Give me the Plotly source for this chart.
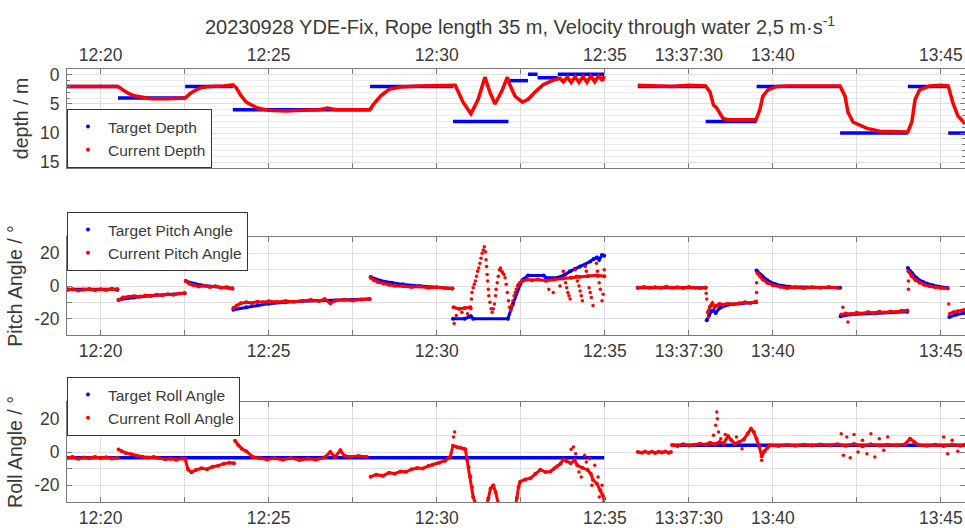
import plotly.graph_objects as go

DATE = "2023-09-28 "
TITLE = "20230928 YDE-Fix, Rope length 35 m, Velocity through water 2,5 m·s<sup>-1</sup>"

# ---------------- axis data ----------------
x_start = "12:19:00"
x_end = "13:45:43"
gap_bounds = ["12:35:00.001", "13:35:00"]
x_tick_times = ["12:20:00", "12:22:30", "12:25:00", "12:27:30", "12:30:00", "12:32:30",
                "12:35:00", "13:37:30", "13:40:00", "13:42:30", "13:45:00"]
x_tick_labels = ["12:20", " ", "12:25", " ", "12:30", " ", "12:35", "13:37:30", "13:40", " ", "13:45"]

depth_ticks = [0, 5, 10, 15]
angle_ticks = [-20, -10, 0, 10, 20]
angle_tick_labels = ["-20", " ", "0", " ", "20"]

# ---------------- depth ----------------
depth_target_start = ["12:19:00", "12:20:31", "12:22:31", "12:23:56", "12:28:01", "12:30:29", "12:32:10",
                      "12:32:43", "12:33:00", "12:33:36",
                      "13:35:59", "13:38:00", "13:39:31", "13:42:00", "13:44:01", "13:45:13"]
depth_target_end = ["12:20:31", "12:22:31", "12:23:56", "12:28:01", "12:30:29", "12:32:08", "12:32:43",
                    "12:33:00", "12:33:36", "12:34:59",
                    "13:38:00", "13:39:31", "13:42:00", "13:44:01", "13:45:13", "13:45:43"]
depth_target_value = [2, 4, 2, 6, 2, 8, 1, -0.1, 0.5, -0.1,
                      2, 8, 2, 10, 2, 10]

depth_current = [
    ("12:19:00", 2.0), ("12:19:20", 2.0), ("12:19:40", 1.9), ("12:20:00", 2.0), ("12:20:20", 2.0), ("12:20:31", 2.0),
    ("12:20:40", 2.6), ("12:20:50", 3.2), ("12:21:00", 3.6), ("12:21:15", 3.9), ("12:21:30", 4.1), ("12:22:00", 4.1),
    ("12:22:31", 4.0), ("12:22:40", 3.2), ("12:22:50", 2.6), ("12:23:00", 2.2), ("12:23:15", 2.0), ("12:23:40", 1.9),
    ("12:23:56", 1.7), ("12:24:02", 2.2), ("12:24:10", 3.5), ("12:24:20", 4.7), ("12:24:40", 5.7), ("12:25:00", 6.1),
    ("12:25:30", 6.2), ("12:26:00", 6.1), ("12:26:30", 6.0), ("12:26:45", 5.7), ("12:27:00", 6.0), ("12:27:30", 6.0),
    ("12:28:01", 6.0), ("12:28:06", 5.2), ("12:28:20", 3.6), ("12:28:35", 2.5), ("12:28:55", 2.1), ("12:29:30", 1.9),
    ("12:30:00", 1.8), ("12:30:33", 1.8), ("12:30:47", 4.7), ("12:31:01", 6.7), ("12:31:14", 4.2), ("12:31:26", 0.4),
    ("12:31:35", 3.0), ("12:31:44", 5.0), ("12:31:57", 2.6), ("12:32:06", 0.4), ("12:32:09", 1.4), ("12:32:20", 3.7),
    ("12:32:33", 4.7), ("12:32:43", 4.2), ("12:32:56", 2.9), ("12:33:10", 1.7), ("12:33:28", 0.9), ("12:33:40", 0.6),
    ("12:33:46", 1.2), ("12:33:53", 0.4), ("12:34:00", 1.3), ("12:34:07", 0.3), ("12:34:14", 1.3), ("12:34:21", 0.3),
    ("12:34:28", 1.3), ("12:34:35", 0.2), ("12:34:42", 1.2), ("12:34:49", 0.2), ("12:34:56", 1.0), ("12:34:59", 0.2),
    (None, None),
    ("13:35:59", 1.8), ("13:36:30", 1.9), ("13:37:00", 2.0), ("13:37:30", 1.8), ("13:38:00", 1.9), ("13:38:08", 3.0),
    ("13:38:14", 5.2), ("13:38:19", 5.6), ("13:38:25", 6.7), ("13:38:31", 7.5), ("13:38:40", 7.7), ("13:39:00", 7.7),
    ("13:39:30", 7.7), ("13:39:37", 5.9), ("13:39:42", 3.7), ("13:39:51", 2.6), ("13:40:07", 2.0), ("13:40:30", 1.9),
    ("13:41:00", 1.9), ("13:41:30", 1.9), ("13:42:00", 1.9), ("13:42:09", 3.7), ("13:42:14", 6.4), ("13:42:23", 8.1),
    ("13:42:48", 9.2), ("13:43:11", 9.7), ("13:43:40", 9.8), ("13:44:01", 9.8), ("13:44:08", 8.1), ("13:44:14", 4.2),
    ("13:44:22", 2.6), ("13:44:40", 1.9), ("13:45:00", 1.8), ("13:45:13", 1.9), ("13:45:21", 4.7), ("13:45:30", 7.0),
    ("13:45:43", 8.4),
]

# ---------------- pitch ----------------
pitch_target = [
    ("12:19:00", -2.0), ("12:20:30", -2.0), (None, None),
    ("12:20:32", -8.5), ("12:21:00", -7.0), ("12:21:30", -6.0), ("12:22:30", -4.5), (None, None),
    ("12:22:32", 3.0), ("12:23:00", 0.5), ("12:23:55", -1.5), (None, None),
    ("12:23:57", -14.5), ("12:24:20", -13.0), ("12:24:40", -11.8), ("12:25:00", -10.8), ("12:25:30", -10.0),
    ("12:26:00", -9.3), ("12:28:00", -8.0), (None, None),
    ("12:28:02", 5.5), ("12:28:20", 3.2), ("12:28:40", 2.0), ("12:29:00", 1.0), ("12:29:30", 0.0), ("12:30:28", -1.5),
    (None, None),
    ("12:30:29", -20.0), ("12:30:50", -20.0), ("12:30:57", -19.0), ("12:31:01", -18.5), ("12:31:05", -20.0),
    ("12:32:07", -20.0), ("12:32:16", -11.0), ("12:32:29", 1.0), ("12:32:34", 4.0), ("12:32:43", 6.5),
    ("12:33:11", 6.5), ("12:33:15", 5.0), ("12:33:35", 5.0), ("12:33:49", 7.0), ("12:33:58", 9.0), ("12:34:07", 10.5),
    ("12:34:16", 12.0), ("12:34:25", 13.0), ("12:34:34", 15.0), ("12:34:40", 16.5), ("12:34:46", 17.5),
    ("12:34:50", 16.0), ("12:34:55", 19.0), ("12:34:59", 18.5),
    (None, None),
    ("13:35:59", -1.0), ("13:38:00", -1.0), (None, None),
    ("13:38:02", -21.0), ("13:38:06", -18.0), ("13:38:10", -15.5), ("13:38:14", -15.0), ("13:38:18", -16.5),
    ("13:38:25", -13.5), ("13:38:40", -11.5), ("13:39:30", -10.0), (None, None),
    ("13:39:31", 9.5), ("13:39:40", 6.5), ("13:39:50", 3.5), ("13:40:05", 1.0), ("13:40:30", -0.5), ("13:42:00", -1.0),
    (None, None),
    ("13:42:01", -18.5), ("13:42:20", -17.5), ("13:43:00", -16.8), ("13:44:00", -15.8), (None, None),
    ("13:44:01", 11.0), ("13:44:08", 8.0), ("13:44:16", 5.0), ("13:44:28", 2.5), ("13:44:45", 0.5), ("13:45:12", -1.2),
    (None, None),
    ("13:45:15", -19.0), ("13:45:28", -17.5), ("13:45:43", -16.5),
]

pitch_current = [
    ("12:19:00", -2.5), ("12:19:10", -2.0), ("12:19:20", -2.8), ("12:19:30", -2.2), ("12:19:40", -1.8),
    ("12:19:50", -2.6), ("12:20:00", -2.0), ("12:20:10", -2.4), ("12:20:20", -1.7), ("12:20:30", -2.5), (None, None),
    ("12:20:32", -8.5), ("12:20:40", -7.0), ("12:20:50", -6.6), ("12:21:00", -6.2), ("12:21:10", -6.5),
    ("12:21:20", -5.8), ("12:21:30", -6.0), ("12:21:40", -5.4), ("12:21:50", -5.6), ("12:22:00", -5.0),
    ("12:22:10", -5.3), ("12:22:20", -4.6), ("12:22:30", -4.4), (None, None),
    ("12:22:32", 3.0), ("12:22:38", 1.5), ("12:22:45", 0.6), ("12:22:55", -0.3), ("12:23:05", 0.2),
    ("12:23:15", -0.6), ("12:23:25", -0.2), ("12:23:35", -1.0), ("12:23:45", -0.7), ("12:23:55", -1.6), (None, None),
    ("12:23:57", -13.5), ("12:24:03", -12.0), ("12:24:10", -10.5), ("12:24:20", -10.0), ("12:24:30", -10.4),
    ("12:24:40", -9.6), ("12:24:50", -10.0), ("12:25:00", -9.4), ("12:25:15", -9.8), ("12:25:30", -9.2),
    ("12:25:45", -9.6), ("12:26:00", -9.0), ("12:26:15", -8.6), ("12:26:30", -9.2), ("12:26:40", -8.0),
    ("12:26:50", -10.5), ("12:27:00", -8.8), ("12:27:15", -8.4), ("12:27:30", -8.9), ("12:27:45", -8.2),
    ("12:28:00", -8.0), (None, None),
    ("12:28:02", 5.0), ("12:28:08", 3.5), ("12:28:15", 2.4), ("12:28:25", 1.5), ("12:28:35", 0.8), ("12:28:45", 0.2),
    ("12:29:00", 0.0), ("12:29:15", -0.6), ("12:29:30", -0.3), ("12:29:45", -1.0), ("12:30:00", -0.8),
    ("12:30:15", -1.4), ("12:30:28", -1.6), (None, None),
    ("12:30:30", -13.0), ("12:30:40", -14.0), ("12:30:50", -13.5), ("12:31:00", -13.0), (None, None),
    ("12:32:33", 3.0), ("12:32:42", 4.0), ("12:32:50", 3.5), ("12:33:00", 4.0), ("12:33:15", 3.2), ("12:33:30", 4.0),
    ("12:33:45", 4.6), ("12:34:00", 5.0), ("12:34:15", 5.6), ("12:34:30", 6.0), ("12:34:45", 6.5), ("12:34:59", 6.0),
    (None, None),
    ("13:35:59", -1.0), ("13:36:10", -0.6), ("13:36:20", -1.1), ("13:36:30", -0.7), ("13:36:40", -1.0),
    ("13:36:50", -0.5), ("13:37:00", -1.1), ("13:37:10", -0.7), ("13:37:20", -1.2), ("13:37:30", -0.6),
    ("13:37:40", -1.0), ("13:37:50", -1.3), ("13:38:00", -1.0), (None, None),
    ("13:38:04", -16.0), ("13:38:08", -12.5), ("13:38:12", -10.5), ("13:38:16", -13.0), ("13:38:20", -12.0),
    ("13:38:25", -11.0), ("13:38:30", -11.5), ("13:38:40", -10.8), ("13:38:50", -11.2), ("13:39:00", -10.5),
    ("13:39:10", -10.0), ("13:39:20", -10.4), ("13:39:30", -9.5), (None, None),
    ("13:39:32", 8.0), ("13:39:37", 6.0), ("13:39:42", 4.0), ("13:39:50", 2.0), ("13:40:00", 0.5), ("13:40:13", -0.5),
    ("13:40:25", -1.2), ("13:40:40", -0.8), ("13:40:55", -1.3), ("13:41:10", -0.7), ("13:41:25", -1.1),
    ("13:41:40", -0.6), ("13:41:55", -1.0), (None, None),
    ("13:42:02", -17.5), ("13:42:10", -16.8), ("13:42:20", -17.2), ("13:42:30", -16.4), ("13:42:40", -16.8),
    ("13:42:50", -16.0), ("13:43:00", -16.5), ("13:43:10", -15.8), ("13:43:20", -16.2), ("13:43:30", -15.6),
    ("13:43:40", -15.9), ("13:43:50", -15.2), ("13:44:00", -15.0), (None, None),
    ("13:44:02", 9.0), ("13:44:08", 6.0), ("13:44:15", 3.5), ("13:44:22", 2.0), ("13:44:30", 0.8), ("13:44:40", -0.2),
    ("13:44:50", -0.8), ("13:45:00", -1.2), ("13:45:12", -1.6), (None, None),
    ("13:45:16", -17.0), ("13:45:22", -16.0), ("13:45:30", -15.4), ("13:45:38", -15.0), ("13:45:43", -14.5),
]

pitch_current_scatter = [
    ("12:30:31", -23.0), ("12:30:35", -18.0), ("12:30:45", -16.0), ("12:30:55", -17.0),
    ("12:31:01", -14.0), ("12:31:02", -8.0), ("12:31:03", -4.0), ("12:31:05", -1.0), ("12:31:07", 1.0),
    ("12:31:09", 3.0), ("12:31:11", 6.0), ("12:31:13", 9.0), ("12:31:15", 11.0), ("12:31:17", 14.0),
    ("12:31:19", 17.0), ("12:31:21", 20.0), ("12:31:23", 22.0), ("12:31:25", 24.0), ("12:31:27", 21.0),
    ("12:31:28", 16.0), ("12:31:29", 12.0), ("12:31:30", 7.0), ("12:31:31", 3.0), ("12:31:32", -2.0),
    ("12:31:33", -6.0), ("12:31:35", -10.0), ("12:31:37", -14.0), ("12:31:39", -16.0), ("12:31:41", -14.0),
    ("12:31:43", -11.0), ("12:31:45", -6.0), ("12:31:46", -2.0), ("12:31:48", 2.0), ("12:31:50", 6.0),
    ("12:31:52", 10.0), ("12:31:54", 11.0), ("12:31:56", 9.0), ("12:31:58", 8.0), ("12:32:00", 7.0),
    ("12:32:02", 5.0), ("12:32:04", 1.0), ("12:32:06", -4.0), ("12:32:08", -9.0), ("12:32:10", -13.0),
    ("12:32:12", -15.0), ("12:32:14", -12.0), ("12:32:16", -9.0), ("12:32:18", -6.0), ("12:32:20", -4.0),
    ("12:32:22", -2.0), ("12:32:24", 0.0), ("12:32:26", 1.0), ("12:32:28", 2.0), ("12:32:31", 3.0),
    ("12:33:20", -2.0), ("12:33:28", -4.0), ("12:33:40", 0.0), ("12:33:46", 9.0), ("12:33:48", 5.0),
    ("12:33:50", 2.0), ("12:33:52", -1.0), ("12:33:54", -4.0), ("12:33:56", -6.0), ("12:33:58", -8.0),
    ("12:34:07", 10.0), ("12:34:09", 6.0), ("12:34:11", 3.0), ("12:34:14", 0.0), ("12:34:16", -3.0),
    ("12:34:18", -6.0), ("12:34:20", -9.0), ("12:34:25", 12.0), ("12:34:27", 9.0), ("12:34:29", 6.0),
    ("12:34:32", -1.0), ("12:34:34", -4.0), ("12:34:36", -7.0), ("12:34:39", -12.0), ("12:34:45", 14.0),
    ("12:34:47", 9.0), ("12:34:48", 6.0), ("12:34:50", 2.0), ("12:34:52", -2.0), ("12:34:55", -9.0),
    ("12:34:57", -5.0), ("12:34:59", 10.0),
    ("13:38:01", -4.5), ("13:38:02", -8.0), ("13:38:05", -19.0), ("13:39:31", 2.0), ("13:39:31", -4.0),
    ("13:42:05", -13.0), ("13:42:14", -22.0), ("13:44:02", 3.0), ("13:44:02", -2.0), ("13:45:14", -11.0),
]

# ---------------- roll ----------------
roll_target = [
    ("12:19:00", -3.5), ("12:34:59", -3.5), (None, None),
    ("13:37:00", 4.0), ("13:45:43", 4.0),
]

roll_current = [
    ("12:19:00", -3.5), ("12:19:10", -3.0), ("12:19:20", -4.0), ("12:19:30", -3.3), ("12:19:40", -3.8),
    ("12:19:50", -3.0), ("12:20:00", -3.6), ("12:20:10", -3.1), ("12:20:20", -3.9), ("12:20:30", -3.4), (None, None),
    ("12:20:32", 1.5), ("12:20:38", 0.5), ("12:20:45", -0.6), ("12:20:55", -1.4), ("12:21:05", -2.2),
    ("12:21:15", -2.8), ("12:21:25", -3.3), ("12:21:35", -3.0), ("12:21:45", -3.8), ("12:21:55", -4.4),
    ("12:22:05", -4.0), ("12:22:15", -4.6), ("12:22:25", -3.9), ("12:22:31", -4.2), ("12:22:36", -10.5),
    ("12:22:42", -12.2), ("12:22:50", -10.8), ("12:23:00", -9.8), ("12:23:10", -10.3), ("12:23:20", -8.8),
    ("12:23:30", -8.2), ("12:23:40", -7.0), ("12:23:50", -6.4), ("12:23:58", -6.8), (None, None),
    ("12:24:00", 6.8), ("12:24:06", 4.0), ("12:24:12", 2.0), ("12:24:20", 0.5), ("12:24:32", -3.0),
    ("12:24:45", -3.8), ("12:24:57", -4.5), ("12:25:10", -3.8), ("12:25:25", -4.6), ("12:25:40", -3.6),
    ("12:25:55", -4.8), ("12:26:10", -4.0), ("12:26:25", -4.6), ("12:26:40", -3.2), ("12:26:50", 0.0),
    ("12:26:58", -3.0), ("12:27:08", 1.0), ("12:27:15", -2.2), ("12:27:25", -2.8), ("12:27:40", -2.4),
    ("12:27:55", -2.9), (None, None),
    ("12:28:02", -14.8), ("12:28:12", -13.6), ("12:28:24", -14.3), ("12:28:35", -12.4), ("12:28:45", -13.0),
    ("12:28:55", -11.7), ("12:29:05", -11.9), ("12:29:15", -10.4), ("12:29:25", -9.6), ("12:29:35", -9.9),
    ("12:29:45", -8.4), ("12:29:53", -7.6), ("12:30:05", -6.5), ("12:30:15", -5.2), ("12:30:24", -3.0),
    ("12:30:29", 3.7), ("12:30:36", 3.0), ("12:30:42", 2.7), ("12:30:48", 2.0), ("12:30:51", 1.6),
    ("12:30:54", -4.5), ("12:30:57", -9.0), ("12:31:00", -14.8), ("12:31:03", -21.0), ("12:31:05", -27.0),
    ("12:31:08", -30.0), ("12:31:12", -34.0), (None, None),
    ("12:31:28", -34.0), ("12:31:32", -28.0), ("12:31:36", -22.0), ("12:31:41", -20.0), ("12:31:45", -24.0),
    ("12:31:50", -31.0), ("12:31:54", -34.0), (None, None),
    ("12:32:20", -34.0), ("12:32:23", -27.6), ("12:32:26", -21.0), ("12:32:29", -17.8), ("12:32:38", -16.5),
    ("12:32:47", -15.8), ("12:32:56", -13.0), ("12:33:05", -10.6), ("12:33:14", -12.0), ("12:33:23", -11.7),
    ("12:33:30", -9.8), ("12:33:35", -8.6), ("12:33:41", -7.0), ("12:33:46", -4.5), ("12:33:52", -5.5),
    ("12:33:59", -6.8), ("12:34:06", -5.0), ("12:34:11", -8.0), ("12:34:20", -9.5), ("12:34:29", -10.6),
    ("12:34:35", -13.0), ("12:34:39", -16.8), ("12:34:46", -19.0), ("12:34:52", -23.0), ("12:34:56", -26.0),
    ("12:34:59", -28.0), (None, None),
    ("13:35:59", 0.0), ("13:36:06", -0.4), ("13:36:12", 0.3), ("13:36:18", -0.5), ("13:36:24", 0.2),
    ("13:36:30", -0.6), ("13:36:36", 0.2), ("13:36:42", -0.3), ("13:36:48", 0.3), ("13:36:54", -0.4),
    ("13:36:58", 0.0), (None, None),
    ("13:37:00", 4.2), ("13:37:10", 3.6), ("13:37:20", 4.6), ("13:37:30", 3.9), ("13:37:40", 4.4),
    ("13:37:50", 5.0), ("13:38:00", 4.5), ("13:38:08", 5.5), ("13:38:16", 4.8), ("13:38:25", 6.0),
    ("13:38:32", 5.2), ("13:38:40", 9.5), ("13:38:46", 7.0), ("13:38:52", 5.0), ("13:39:00", 6.0),
    ("13:39:08", 7.5), ("13:39:15", 11.0), ("13:39:21", 14.0), ("13:39:26", 12.0), ("13:39:31", 8.0),
    ("13:39:36", 3.0), ("13:39:40", -2.5), ("13:39:45", 0.5), ("13:39:50", 2.5), ("13:39:55", 4.0),
    ("13:40:10", 3.6), ("13:40:25", 4.3), ("13:40:40", 3.8), ("13:40:55", 4.4), ("13:41:10", 3.9),
    ("13:41:25", 4.5), ("13:41:40", 4.0), ("13:41:55", 4.6), ("13:42:10", 3.8), ("13:42:25", 4.8),
    ("13:42:40", 3.5), ("13:42:55", 4.7), ("13:43:10", 3.9), ("13:43:25", 4.4), ("13:43:40", 4.0),
    ("13:43:55", 4.5), ("13:44:05", 8.0), ("13:44:12", 6.0), ("13:44:20", 4.2), ("13:44:35", 3.8),
    ("13:44:50", 4.4), ("13:45:05", 3.6), ("13:45:20", 4.5), ("13:45:35", 3.8), ("13:45:43", 4.4),
]

roll_current_scatter = [
    ("12:30:30", 9.0), ("12:30:32", 12.0), ("12:34:00", 1.6), ("12:34:04", 3.0), ("12:34:08", -1.0),
    ("12:34:14", -12.0), ("12:34:18", -15.0), ("12:34:24", -2.0), ("12:34:27", -6.0), ("12:34:33", -4.0),
    ("12:34:37", -20.0), ("12:34:42", -8.0), ("12:34:48", -15.0), ("12:34:50", -27.0), ("12:34:55", -20.0),
    ("12:34:58", -30.0),
    ("13:38:14", 10.0), ("13:38:18", 16.0), ("13:38:20", 24.0), ("13:38:21", 20.0), ("13:38:23", 12.0),
    ("13:38:27", 8.0), ("13:38:35", 10.5), ("13:38:55", 9.0), ("13:39:05", 2.0), ("13:39:40", -5.0),
    ("13:42:02", 11.0), ("13:42:06", -2.0), ("13:42:12", 9.0), ("13:42:18", -3.5), ("13:42:25", 10.5),
    ("13:42:32", 0.0), ("13:42:40", 7.0), ("13:42:48", -1.0), ("13:42:55", 11.0), ("13:43:02", -3.0),
    ("13:43:10", 8.0), ("13:43:18", 1.0), ("13:43:25", 9.0), ("13:45:05", 9.0), ("13:45:12", -1.0),
    ("13:45:20", 7.0), ("13:45:30", 0.5),
]

# ---------------- style ----------------
RED = "#ff0000"
BLUE = "#0000ff"
AXIS = "#7a7a7a"
GRID = "#dedede"
MINOR = "#ececec"
TEXT = "#3a3a3a"
FONT = "Liberation Sans, Arial, sans-serif"
W, H = 965, 528


def unzip(pairs):
    xs = [DATE + t if t is not None else None for t, _ in pairs]
    ys = [v for _, v in pairs]
    return xs, ys


def segments(starts, ends, values):
    xs, ys = [], []
    for s, e, v in zip(starts, ends, values):
        xs += [DATE + s, DATE + e, None]
        ys += [v, v, None]
    return xs, ys


fig = go.Figure()

panels = [
    ("x", "y", "legend", "Target Depth", "Current Depth"),
    ("x2", "y2", "legend2", "Target Pitch Angle", "Current Pitch Angle"),
    ("x3", "y3", "legend3", "Target Roll Angle", "Current Roll Angle"),
]

# depth
tx, ty = segments(depth_target_start, depth_target_end, depth_target_value)
fig.add_trace(go.Scatter(x=tx, y=ty, mode="lines", line=dict(color=BLUE, width=3.5),
                         xaxis="x", yaxis="y", showlegend=False, hoverinfo="skip"))
cx, cy = unzip(depth_current)
fig.add_trace(go.Scatter(x=cx, y=cy, mode="lines", line=dict(color=RED, width=3.5),
                         xaxis="x", yaxis="y", showlegend=False, hoverinfo="skip"))

# pitch
tx, ty = unzip(pitch_target)
fig.add_trace(go.Scatter(x=tx, y=ty, mode="lines+markers", line=dict(color=BLUE, width=3),
                         marker=dict(color=BLUE, size=4), xaxis="x2", yaxis="y2", showlegend=False,
                         hoverinfo="skip"))
cx, cy = unzip(pitch_current)
fig.add_trace(go.Scatter(x=cx, y=cy, mode="lines+markers", line=dict(color=RED, width=3),
                         marker=dict(color=RED, size=4), xaxis="x2", yaxis="y2", showlegend=False,
                         hoverinfo="skip"))
sx, sy = unzip(pitch_current_scatter)
fig.add_trace(go.Scatter(x=sx, y=sy, mode="markers", marker=dict(color=RED, size=3.5),
                         xaxis="x2", yaxis="y2", showlegend=False, hoverinfo="skip"))

# roll
tx, ty = unzip(roll_target)
fig.add_trace(go.Scatter(x=tx, y=ty, mode="lines", line=dict(color=BLUE, width=3.5),
                         xaxis="x3", yaxis="y3", showlegend=False, hoverinfo="skip"))
cx, cy = unzip(roll_current)
fig.add_trace(go.Scatter(x=cx, y=cy, mode="lines+markers", line=dict(color=RED, width=3),
                         marker=dict(color=RED, size=4), xaxis="x3", yaxis="y3", showlegend=False,
                         hoverinfo="skip"))
sx, sy = unzip(roll_current_scatter)
fig.add_trace(go.Scatter(x=sx, y=sy, mode="markers", marker=dict(color=RED, size=3.5),
                         xaxis="x3", yaxis="y3", showlegend=False, hoverinfo="skip"))

# legend entries (small dot markers)
for xa, ya, lg, tname, cname in panels:
    for name, col in ((tname, BLUE), (cname, RED)):
        fig.add_trace(go.Scatter(x=[None], y=[None], mode="markers", name=name,
                                 marker=dict(color=col, size=4), xaxis=xa, yaxis=ya, legend=lg))


def px_to_paper_y(py):
    return (H - py) / H


common_x = dict(
    type="date",
    range=[DATE + x_start, DATE + x_end],
    rangebreaks=[dict(bounds=[DATE + gap_bounds[0], DATE + gap_bounds[1]])],
    tickmode="array",
    tickvals=[DATE + t for t in x_tick_times],
    ticktext=x_tick_labels,
    showgrid=True, gridcolor=GRID, gridwidth=1,
    ticks="inside", ticklen=5, tickcolor=AXIS, tickwidth=1,
    showline=True, linecolor=AXIS, linewidth=1, mirror="allticks",
    tickfont=dict(size=17.5, color=TEXT, family=FONT),
    zeroline=False, fixedrange=True, automargin=False,
)

common_y = dict(
    showgrid=True, gridcolor=GRID, gridwidth=1,
    ticks="inside", ticklen=5, tickcolor=AXIS, tickwidth=1,
    showline=True, linecolor=AXIS, linewidth=1, mirror="allticks",
    tickfont=dict(size=17.5, color=TEXT, family=FONT),
    zeroline=False, fixedrange=True, automargin=False, ticklabelstandoff=3,
)

dom1 = [px_to_paper_y(168), px_to_paper_y(69)]
dom2 = [px_to_paper_y(335), px_to_paper_y(237)]
dom3 = [px_to_paper_y(502), px_to_paper_y(402)]

legend_common = dict(xanchor="left", yanchor="bottom", x=0, bgcolor="white", bordercolor="#333333",
                     borderwidth=1, font=dict(size=15.5, color=TEXT, family=FONT), tracegroupgap=0,
                     itemsizing="trace")

fig.update_layout(
    width=W, height=H,
    margin=dict(l=67, r=0, t=0, b=0),
    paper_bgcolor="white", plot_bgcolor="white",
    font=dict(family=FONT, color=TEXT),
    title=dict(text=TITLE, x=520 / W, xref="container", xanchor="center",
               y=1 - 27 / H, yref="container", yanchor="middle",
               font=dict(size=20, color=TEXT, family=FONT)),
    xaxis=dict(common_x, anchor="y", side="top", domain=[0, 1]),
    xaxis2=dict(common_x, anchor="y2", side="bottom", domain=[0, 1]),
    xaxis3=dict(common_x, anchor="y3", side="bottom", domain=[0, 1]),
    yaxis=dict(common_y, anchor="x", domain=dom1, range=[16, -1], tickmode="array", tickvals=depth_ticks,
               minor=dict(dtick=1, showgrid=True, gridcolor=MINOR, ticks="inside", ticklen=3, tickcolor=AXIS),
               title=dict(text="depth / m", font=dict(size=19.5, color=TEXT, family=FONT), standoff=6)),
    yaxis2=dict(common_y, anchor="x2", domain=dom2, range=[-30, 30], tickmode="array", tickvals=angle_ticks,
                ticktext=angle_tick_labels,
                title=dict(text="Pitch Angle / °", font=dict(size=19.5, color=TEXT, family=FONT), standoff=6)),
    yaxis3=dict(common_y, anchor="x3", domain=dom3, range=[-30, 30], tickmode="array", tickvals=angle_ticks,
                ticktext=angle_tick_labels,
                title=dict(text="Roll Angle / °", font=dict(size=19.5, color=TEXT, family=FONT), standoff=6)),
    legend=dict(legend_common, y=px_to_paper_y(168)),
    legend2=dict(legend_common, y=px_to_paper_y(271)),
    legend3=dict(legend_common, y=px_to_paper_y(436)),
)

fig.write_html("out.html")
